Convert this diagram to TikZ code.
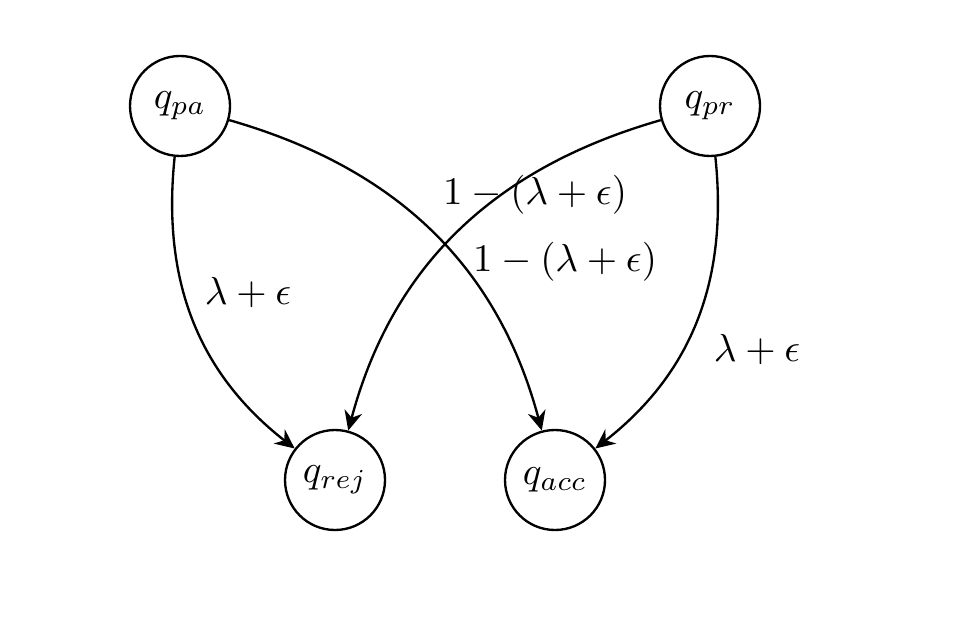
\documentclass[tikz,border=0pt]{standalone}
\usetikzlibrary{arrows.meta}
\begin{document}
\begin{tikzpicture}[x=0.009cm,y=-0.009cm,
  state/.style={circle,draw,line width=0.6pt,minimum size=100*0.009cm,inner sep=0pt},
  trans/.style={line width=0.6pt,-{Stealth[length=5pt,width=4.6pt,inset=1.6pt]}},
  lab/.style={inner sep=0pt}]
\useasboundingbox (0,0) rectangle (960,634);
\node[state] (pa) at (180,106) {$q_{pa}$};
\node[state] (pr) at (710,106) {$q_{pr}$};
\node[state] (rej) at (335,480) {$q_{rej}$};
\node[state] (acc) at (555,480) {$q_{acc}$};
\draw[trans] (pa.-96) to[out=-96,in=142,looseness=1.0] (rej.142);
\draw[trans] (pa.-16) to[out=-16,in=105,looseness=1.0] (acc.105);
\draw[trans] (pr.196) to[out=196,in=75,looseness=1.0] (rej.75);
\draw[trans] (pr.-84) to[out=-84,in=38,looseness=1.0] (acc.38);
\node[lab] (l1) at (248,293) {$\lambda+\epsilon$};
\node[lab] (l2) at (535,195) {$1-(\lambda+\epsilon)$};
\node[lab] (l3) at (565,262) {$1-(\lambda+\epsilon)$};
\node[lab] (l4) at (757,350) {$\lambda+\epsilon$};
\end{tikzpicture}
\end{document}
